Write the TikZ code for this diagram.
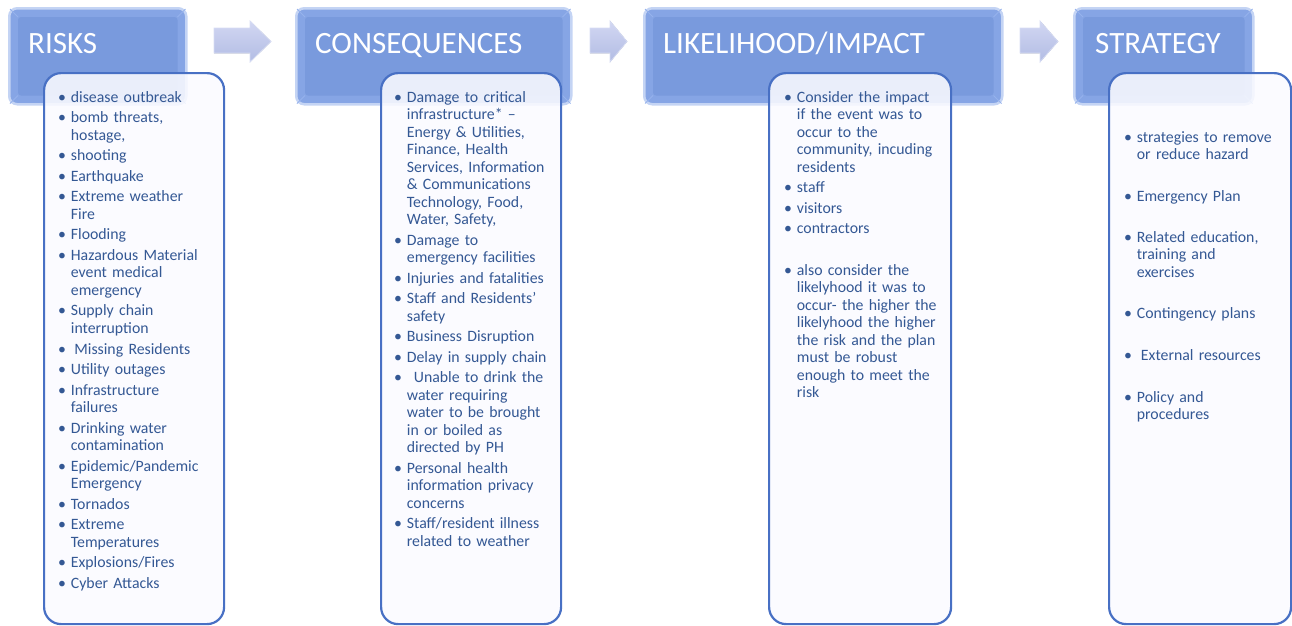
\documentclass[tikz,border=0pt]{standalone}
\usepackage{fontspec}
\setmainfont{Carlito}
\definecolor{hdrout}{RGB}{134,165,229}
\definecolor{hdrin}{RGB}{121,154,221}
\definecolor{hdrglow}{RGB}{196,212,244}
\definecolor{hdredge}{RGB}{150,178,236}
\definecolor{boxline}{RGB}{72,112,196}
\definecolor{boxfill}{RGB}{250,250,255}
\definecolor{txt}{RGB}{52,88,148}
\definecolor{arrtop}{RGB}{210,215,242}
\definecolor{arrbot}{RGB}{178,188,228}
\definecolor{arrline}{RGB}{214,220,244}
\newcommand\bul{\llap{•\hspace{5pt}}}
\tikzset{
  hdrbox/.style={rounded corners=8pt, fill=hdrout, draw=hdrglow, line width=2.5pt, anchor=north west, inner sep=0pt},
  hdrinner/.style={fill=hdrin, rounded corners=3pt},
  bevel/.style={draw=hdredge, line width=0.8pt},
  hdrtext/.style={anchor=base west, inner sep=0pt, text=white, font=\fontsize{31}{31}\selectfont},
  listbox/.style={rounded corners=17pt, draw=boxline, line width=2.2pt, fill=boxfill, fill opacity=0.88, anchor=north west, inner sep=0pt},
  itm/.style={anchor=base west, inner sep=0pt, text width=160pt, align=left, text=txt, font=\fontsize{15.8}{17.5}\selectfont},
  blockarrow/.style={top color=arrtop, bottom color=arrbot, draw=arrline, line width=0.8pt}
}
\begin{document}
\begin{tikzpicture}[x=1pt,y=-1pt]
\useasboundingbox (0,0) rectangle (1292,625);
% headers
\node[hdrbox, minimum width=177pt, minimum height=96pt] (hR) at (8,7) {};
\node[hdrbox, minimum width=275pt, minimum height=96pt] (hC) at (295,7) {};
\node[hdrbox, minimum width=358pt, minimum height=96pt] (hL) at (643,7) {};
\node[hdrbox, minimum width=179pt, minimum height=96pt] (hS) at (1073,7) {};
\foreach \h in {hR,hC,hL,hS}{
  \fill[hdrinner] ([shift={(10pt,-10pt)}]\h.north west) rectangle ([shift={(-10pt,10pt)}]\h.south east);
  \draw[bevel] ([shift={(2pt,-2pt)}]\h.north west) -- ([shift={(10pt,-10pt)}]\h.north west);
  \draw[bevel] ([shift={(-2pt,-2pt)}]\h.north east) -- ([shift={(-10pt,-10pt)}]\h.north east);
  \draw[bevel] ([shift={(2pt,2pt)}]\h.south west) -- ([shift={(10pt,10pt)}]\h.south west);
  \draw[bevel] ([shift={(-2pt,2pt)}]\h.south east) -- ([shift={(-10pt,10pt)}]\h.south east);
}
\node[hdrtext] (tR) at (28,53) {RISKS};
\node[hdrtext] (tC) at (315,53) {CONSEQUENCES};
\node[hdrtext] (tL) at (663,53) {LIKELIHOOD/IMPACT};
\node[hdrtext] (tS) at (1095,53) {STRATEGY};
% block arrows
\filldraw[blockarrow] (214,28) -- (250,28) -- (250,21) -- (271,41.5) -- (250,62) -- (250,53) -- (214,53) -- cycle;
\filldraw[blockarrow] (590,28) -- (610,28) -- (610,21) -- (627,41.5) -- (610,62) -- (610,53) -- (590,53) -- cycle;
\filldraw[blockarrow] (1020,28) -- (1040,28) -- (1040,21) -- (1058,41.5) -- (1040,62) -- (1040,53) -- (1020,53) -- cycle;
% list boxes
\node[listbox, minimum width=180pt, minimum height=551pt] (bR) at (43,72) {};
\node[listbox, minimum width=180pt, minimum height=551pt] (bC) at (380,72) {};
\node[listbox, minimum width=182pt, minimum height=551pt] (bL) at (768,72) {};
\node[listbox, minimum width=182pt, minimum height=551pt] (bS) at (1108,72) {};
% RISKS
\node[itm] (r1) at (70.7,102) {\bul disease outbreak};
\node[itm] (r2) at (70.7,122.5) {\bul bomb threats,\\hostage,};
\node[itm] (r3) at (70.7,160.5) {\bul shooting};
\node[itm] (r4) at (70.7,181) {\bul Earthquake};
\node[itm] (r5) at (70.7,201.5) {\bul Extreme weather\\Fire};
\node[itm] (r6) at (70.7,239.5) {\bul Flooding};
\node[itm] (r7) at (70.7,260) {\bul Hazardous Material\\event medical\\emergency};
\node[itm] (r8) at (70.7,315.5) {\bul Supply chain\\interruption};
\node[itm] (r9) at (70.7,354) {\bul\hspace{3.5pt}Missing Residents};
\node[itm] (r10) at (70.7,374.5) {\bul Utility outages};
\node[itm] (r11) at (70.7,395) {\bul Infrastructure\\failures};
\node[itm] (r12) at (70.7,433) {\bul Drinking water\\contamination};
\node[itm] (r13) at (70.7,471) {\bul Epidemic/Pandemic\\Emergency};
\node[itm] (r14) at (70.7,509) {\bul Tornados};
\node[itm] (r15) at (70.7,529.5) {\bul Extreme\\Temperatures};
\node[itm] (r16) at (70.7,567.5) {\bul Explosions/Fires};
\node[itm] (r17) at (70.7,588) {\bul Cyber Attacks};
% CONSEQUENCES
\node[itm] (c1) at (406.7,102) {\bul Damage to critical\\infrastructure* –\\Energy \& Utilities,\\Finance, Health\\Services, Information\\\& Communications\\Technology, Food,\\Water, Safety,};
\node[itm] (c2) at (406.7,245) {\bul Damage to\\emergency facilities};
\node[itm] (c3) at (406.7,283) {\bul Injuries and fatalities};
\node[itm] (c4) at (406.7,303.5) {\bul Staff and Residents’\\safety};
\node[itm] (c5) at (406.7,341.5) {\bul Business Disruption};
\node[itm] (c6) at (406.7,362) {\bul Delay in supply chain};
\node[itm] (c7) at (406.7,382.5) {\bul\hspace{7pt}Unable to drink the\\water requiring\\water to be brought\\in or boiled as\\directed by PH};
\node[itm] (c8) at (406.7,473) {\bul Personal health\\information privacy\\concerns};
\node[itm] (c9) at (406.7,528.5) {\bul Staff/resident illness\\related to weather};
% LIKELIHOOD/IMPACT
\node[itm] (l1) at (796.7,102) {\bul Consider the impact\\if the event was to\\occur to the\\community, incuding\\residents};
\node[itm] (l2) at (796.7,192.5) {\bul staff};
\node[itm] (l3) at (796.7,213) {\bul visitors};
\node[itm] (l4) at (796.7,233.5) {\bul contractors};
\node[itm] (l5) at (796.7,275) {\bul also consider the\\likelyhood it was to\\occur- the higher the\\likelyhood the higher\\the risk and the plan\\must be robust\\enough to meet the\\risk};
% STRATEGY
\node[itm] (s1) at (1136.7,142) {\bul strategies to remove\\or reduce hazard};
\node[itm] (s2) at (1136.7,201) {\bul Emergency Plan};
\node[itm] (s3) at (1136.7,242) {\bul Related education,\\training and\\exercises};
\node[itm] (s4) at (1136.7,318) {\bul Contingency plans};
\node[itm] (s5) at (1136.7,360) {\bul\hspace{4pt}External resources};
\node[itm] (s6) at (1136.7,402) {\bul Policy and\\procedures};
\end{tikzpicture}
\end{document}
